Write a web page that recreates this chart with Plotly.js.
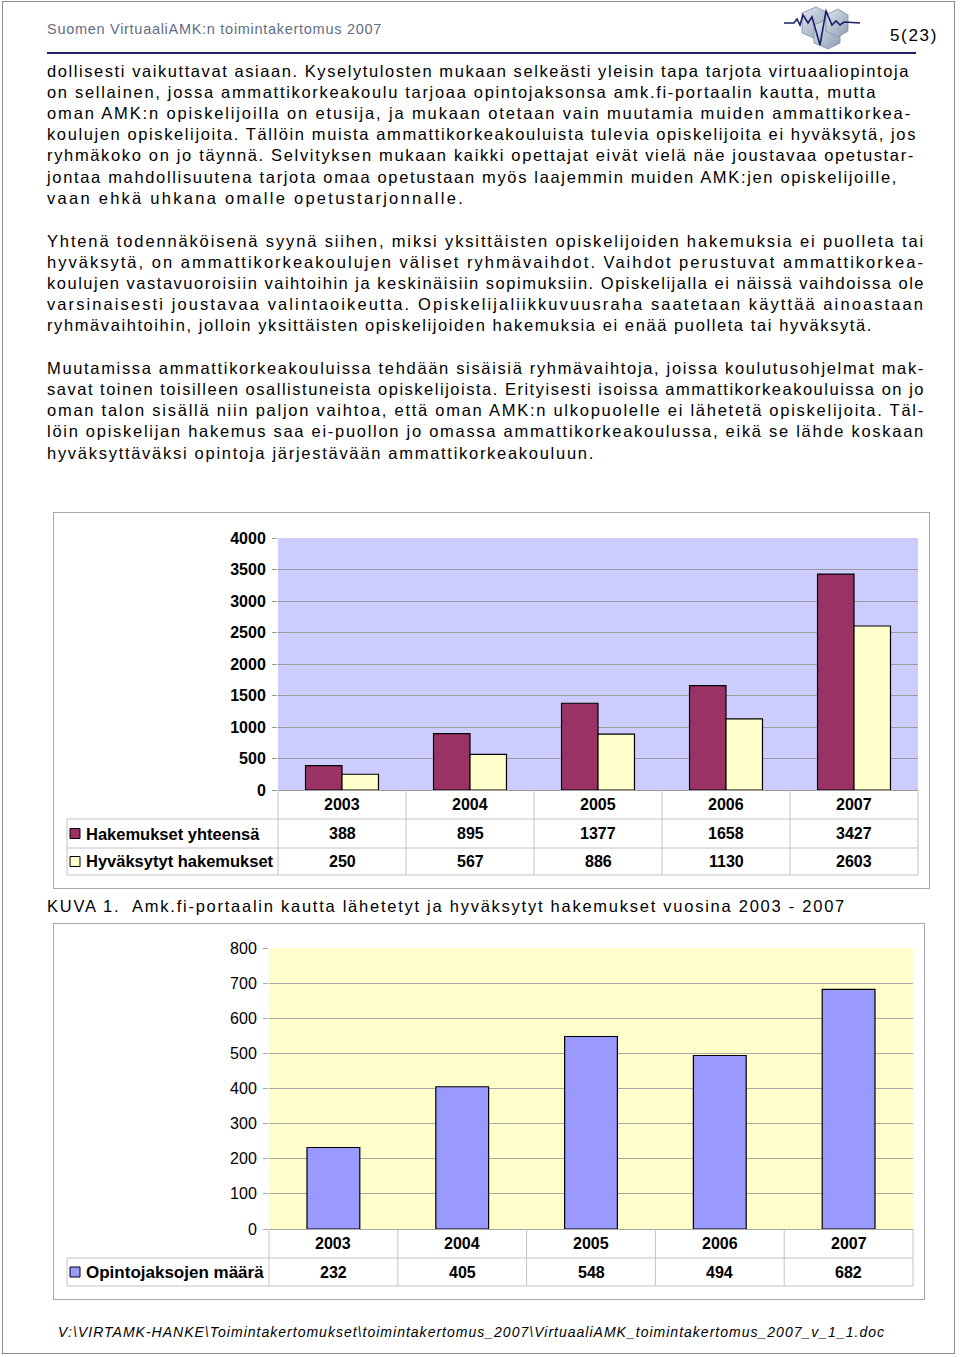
<!DOCTYPE html>
<html>
<head>
<meta charset="utf-8">
<script src="https://cdn.plot.ly/plotly-3.0.1.min.js"></script>
<style>
  html, body { margin:0; padding:0; background:#fff; }
  body { width:960px; height:1357px; position:relative; overflow:hidden; font-family:"Liberation Sans", Arial, sans-serif; }
  .pageborder { position:absolute; left:2px; top:1px; width:953px; height:1353px; border:1px solid #8a8a8a; box-sizing:border-box; }
  .line { position:absolute; left:47px; height:21px; line-height:21px; font-size:16.5px; color:#000; white-space:pre; }
  .line span { display:inline-block; white-space:pre; }
  .frame { position:absolute; border:1px solid #a8a8a8; box-sizing:border-box; }
  .plot { position:absolute; }
</style>
</head>
<body>
<div class="pageborder"></div>

<!-- header -->
<div class="line" id="hdr" style="top:19px;font-size:14.5px;color:#5f6d84;"><span data-w="335">Suomen VirtuaaliAMK:n toimintakertomus 2007</span></div>
<div class="line" style="left:890px;top:25px;font-size:17px;"><span data-w="48">5(23)</span></div>
<div style="position:absolute;left:47px;top:52px;width:869px;height:2px;background:#1c1f6b;"></div>
<svg style="position:absolute;left:780px;top:3px;" width="85" height="48" viewBox="0 0 85 48">
  <defs>
    <linearGradient id="cg" x1="0" y1="0" x2="1" y2="1">
      <stop offset="0" stop-color="#dfe6ee"/><stop offset="1" stop-color="#8d9db3"/>
    </linearGradient>
  </defs>
  <polygon points="22,10 36,4 48,10 48,30 36,36 22,30" fill="url(#cg)" stroke="#7f8ea5" stroke-width="0.8"/>
  <polygon points="34,22 48,16 60,22 60,40 48,46 34,40" fill="url(#cg)" stroke="#7f8ea5" stroke-width="0.8"/>
  <polygon points="46,12 58,6 68,12 68,28 58,34 46,28" fill="url(#cg)" stroke="#7f8ea5" stroke-width="0.8"/>
  <polyline points="4,20 14,20 17,16 20,22 23,12 28,20 32,14 40,42 46,8 52,22 56,18 60,22 64,19 80,20" fill="none" stroke="#1c1f6b" stroke-width="1.6"/>
</svg>

<div id="textlines"></div>

<!-- chart 1 -->
<div class="frame" style="left:53px;top:512px;width:877px;height:377px;"></div>
<div class="plot" id="chart1" style="left:53px;top:512px;width:877px;height:377px;"></div>

<div class="line" style="top:896px;"><span data-w="799">KUVA 1.  Amk.fi-portaalin kautta lähetetyt ja hyväksytyt hakemukset vuosina 2003 - 2007</span></div>

<!-- chart 2 -->
<div class="frame" style="left:53px;top:923px;width:872px;height:377px;"></div>
<div class="plot" id="chart2" style="left:53px;top:923px;width:872px;height:377px;"></div>

<div class="line" style="left:58px;top:1322px;font-size:14px;font-style:italic;"><span data-w="827">V:\VIRTAMK-HANKE\Toimintakertomukset\toimintakertomus_2007\VirtuaaliAMK_toimintakertomus_2007_v_1_1.doc</span></div>

<script>
// ---------------- DATA ----------------
const years = ['2003', '2004', '2005', '2006', '2007'];
const hakemuksetYhteensa = [388, 895, 1377, 1658, 3427];
const hyvaksytytHakemukset = [250, 567, 886, 1130, 2603];
const opintojaksojenMaara = [232, 405, 548, 494, 682];
const seriesNames1 = ['Hakemukset yhteensä', 'Hyväksytyt hakemukset'];
const seriesNames2 = ['Opintojaksojen määrä'];
const yTicks1 = [0, 500, 1000, 1500, 2000, 2500, 3000, 3500, 4000];
const yTicks2 = [0, 100, 200, 300, 400, 500, 600, 700, 800];

// ---------------- BODY TEXT ----------------
const paragraphs = [
  { y0: 71, dy: 21.2, lines: [
    ['dollisesti vaikuttavat asiaan. Kyselytulosten mukaan selkeästi yleisin tapa tarjota virtuaaliopintoja', 863],
    ['on sellainen, jossa ammattikorkeakoulu tarjoaa opintojaksonsa amk.fi-portaalin kautta, mutta', 830],
    ['oman AMK:n opiskelijoilla on etusija, ja mukaan otetaan vain muutamia muiden ammattikorkea-', 865],
    ['koulujen opiskelijoita. Tällöin muista ammattikorkeakouluista tulevia opiskelijoita ei hyväksytä, jos', 870],
    ['ryhmäkoko on jo täynnä. Selvityksen mukaan kaikki opettajat eivät vielä näe joustavaa opetustar-', 868],
    ['jontaa mahdollisuutena tarjota omaa opetustaan myös laajemmin muiden AMK:jen opiskelijoille,', 851],
    ['vaan ehkä uhkana omalle opetustarjonnalle.', 418]
  ]},
  { y0: 241, dy: 21.1, lines: [
    ['Yhtenä todennäköisenä syynä siihen, miksi yksittäisten opiskelijoiden hakemuksia ei puolleta tai', 878],
    ['hyväksytä, on ammattikorkeakoulujen väliset ryhmävaihdot. Vaihdot perustuvat ammattikorkea-', 878],
    ['koulujen vastavuoroisiin vaihtoihin ja keskinäisiin sopimuksiin. Opiskelijalla ei näissä vaihdoissa ole', 878],
    ['varsinaisesti joustavaa valintaoikeutta. Opiskelijaliikkuvuusraha saatetaan käyttää ainoastaan', 878],
    ['ryhmävaihtoihin, jolloin yksittäisten opiskelijoiden hakemuksia ei enää puolleta tai hyväksytä.', 826]
  ]},
  { y0: 368, dy: 21.25, lines: [
    ['Muutamissa ammattikorkeakouluissa tehdään sisäisiä ryhmävaihtoja, joissa koulutusohjelmat mak-', 878],
    ['savat toinen toisilleen osallistuneista opiskelijoista. Erityisesti isoissa ammattikorkeakouluissa on jo', 878],
    ['oman talon sisällä niin paljon vaihtoa, että oman AMK:n ulkopuolelle ei lähetetä opiskelijoita. Täl-', 878],
    ['löin opiskelijan hakemus saa ei-puollon jo omassa ammattikorkeakoulussa, eikä se lähde koskaan', 878],
    ['hyväksyttäväksi opintoja järjestävään ammattikorkeakouluun.', 548]
  ]}
];
const tl = document.getElementById('textlines');
paragraphs.forEach(p => {
  p.lines.forEach((ln, i) => {
    const d = document.createElement('div');
    d.className = 'line';
    d.style.top = (p.y0 + p.dy * i - 10.5) + 'px';
    const s = document.createElement('span');
    s.textContent = ln[0];
    s.setAttribute('data-w', ln[1]);
    d.appendChild(s);
    tl.appendChild(d);
  });
});
function fitAll() {
  document.querySelectorAll('span[data-w]').forEach(s => {
    s.style.letterSpacing = '0px';
    const w = s.getBoundingClientRect().width;
    const n = s.textContent.length;
    const target = parseFloat(s.getAttribute('data-w'));
    s.style.letterSpacing = ((target - w) / n) + 'px';
  });
}
fitAll();
if (document.fonts && document.fonts.ready) document.fonts.ready.then(fitAll);

// ---------------- CHART HELPERS ----------------
const FONT = '"Liberation Sans", Arial, sans-serif';
const GRID = '#9a9a9a';
const TBL = '#c4c4c4';

function tableDecor(opts) {
  const shapes = [];
  const ann = [];
  const yBottom = opts.lineYs[opts.lineYs.length - 1];
  for (let i = 0; i <= years.length; i++) {
    shapes.push({type:'line', xref:'paper', yref:'paper', x0:i/years.length, x1:i/years.length, y0:0, y1:yBottom, line:{color:TBL, width:1}});
  }
  shapes.push({type:'line', xref:'paper', yref:'paper', x0:opts.tableLeft, x1:opts.tableLeft, y0:opts.lineYs[0], y1:yBottom, line:{color:TBL, width:1}});
  opts.lineYs.forEach(y => {
    shapes.push({type:'line', xref:'paper', yref:'paper', x0:opts.tableLeft, x1:1, y0:y, y1:y, line:{color:TBL, width:1}});
  });
  years.forEach((yr, i) => {
    ann.push({xref:'x', yref:'paper', x:i, y:opts.hdrY, text:yr, showarrow:false, xanchor:'center', yanchor:'middle', font:{family:FONT, size:16, color:'#000', weight:'bold'}});
  });
  opts.rows.forEach((r, ri) => {
    const cy = opts.rowYs[ri];
    shapes.push({type:'rect', xref:'paper', yref:'paper', x0:opts.sqX0, x1:opts.sqX1, y0:cy - opts.sqH, y1:cy + opts.sqH, fillcolor:r.color, line:{color:'#000', width:1}});
    ann.push({xref:'paper', yref:'paper', x:opts.labelX, y:cy, text:r.name, showarrow:false, xanchor:'left', yanchor:'middle', font:{family:FONT, size:opts.labelSize, color:'#000', weight:'bold'}});
    r.values.forEach((v, i) => {
      ann.push({xref:'x', yref:'paper', x:i, y:cy, text:String(v), showarrow:false, xanchor:'center', yanchor:'middle', font:{family:FONT, size:16, color:'#000', weight:'bold'}});
    });
  });
  return {shapes, ann};
}

// ---------------- CHART 1 ----------------
(function(){
  const H1 = 252, W1 = 640;
  const px = v => v / H1;
  const d = tableDecor({
    rows: [
      {name: seriesNames1[0], color:'#993366', values: hakemuksetYhteensa},
      {name: seriesNames1[1], color:'#FFFFCC', values: hyvaksytytHakemukset}
    ],
    hdrY: -px(14.5),
    rowYs: [-px(43.5), -px(71.5)],
    lineYs: [-px(29), -px(58), -px(85)],
    tableLeft: (67 - 278) / W1,
    sqX0: (70 - 278) / W1, sqX1: (80 - 278) / W1, sqH: px(5),
    labelX: (84 - 278) / W1,
    labelSize: 16.5
  });
  const traces = [
    {type:'bar', x: years, y: hakemuksetYhteensa, name: seriesNames1[0], marker:{color:'#993366', line:{color:'#000', width:1.2}}, hoverinfo:'skip'},
    {type:'bar', x: years, y: hyvaksytytHakemukset, name: seriesNames1[1], marker:{color:'#FFFFCC', line:{color:'#000', width:1.2}}, hoverinfo:'skip'}
  ];
  const layout = {
    width: 877, height: 377,
    margin: {l:225, r:12, t:26, b:99, pad:0},
    paper_bgcolor:'rgba(0,0,0,0)', plot_bgcolor:'#CCCCFF',
    barmode:'group', bargap:0.43, bargroupgap:0,
    showlegend:false,
    xaxis: {type:'category', categoryorder:'array', categoryarray: years, range:[-0.5, years.length - 0.5], autorange:false,
            showticklabels:false, ticks:'', showgrid:false, zeroline:false, showline:false, fixedrange:true},
    yaxis: {range:[0,4000], autorange:false, tickvals: yTicks1, ticktext: yTicks1.map(String), showgrid:true, gridcolor:GRID, gridwidth:1,
            zeroline:true, zerolinecolor:GRID, zerolinewidth:1, showline:false,
            ticks:'outside', ticklen:5, tickcolor:GRID, ticklabelstandoff:3,
            tickfont:{family:FONT, size:16, color:'#000', weight:'bold'}, fixedrange:true},
    shapes: d.shapes, annotations: d.ann,
    font:{family:FONT}
  };
  Plotly.newPlot('chart1', traces, layout, {staticPlot:true, displayModeBar:false});
})();

// ---------------- CHART 2 ----------------
(function(){
  const H2 = 281, W2 = 644;
  const px = v => v / H2;
  const d = tableDecor({
    rows: [
      {name: seriesNames2[0], color:'#9999FF', values: opintojaksojenMaara}
    ],
    hdrY: -px(14.5),
    rowYs: [-px(43)],
    lineYs: [-px(29), -px(57)],
    tableLeft: (67 - 269) / W2,
    sqX0: (70 - 269) / W2, sqX1: (80 - 269) / W2, sqH: px(5),
    labelX: (84 - 269) / W2,
    labelSize: 17
  });
  const traces = [
    {type:'bar', x: years, y: opintojaksojenMaara, name: seriesNames2[0], marker:{color:'#9999FF', line:{color:'#000', width:1.2}}, hoverinfo:'skip'}
  ];
  const layout = {
    width: 872, height: 377,
    margin: {l:216, r:12, t:25, b:71, pad:0},
    paper_bgcolor:'rgba(0,0,0,0)', plot_bgcolor:'#FFFFCC',
    bargap:0.59,
    showlegend:false,
    xaxis: {type:'category', categoryorder:'array', categoryarray: years, range:[-0.5, years.length - 0.5], autorange:false,
            showticklabels:false, ticks:'', showgrid:false, zeroline:false, showline:false, fixedrange:true},
    yaxis: {range:[0,800], autorange:false, tickvals: yTicks2, ticktext: yTicks2.map(String), showgrid:true, gridcolor:'#a8a8a8', gridwidth:1,
            zeroline:true, zerolinecolor:'#a8a8a8', zerolinewidth:1, showline:false,
            ticks:'outside', ticklen:5, tickcolor:'#a8a8a8', ticklabelstandoff:3,
            tickfont:{family:FONT, size:16, color:'#000'}, fixedrange:true},
    shapes: d.shapes, annotations: d.ann,
    font:{family:FONT}
  };
  Plotly.newPlot('chart2', traces, layout, {staticPlot:true, displayModeBar:false});
})();
</script>
</body>
</html>
